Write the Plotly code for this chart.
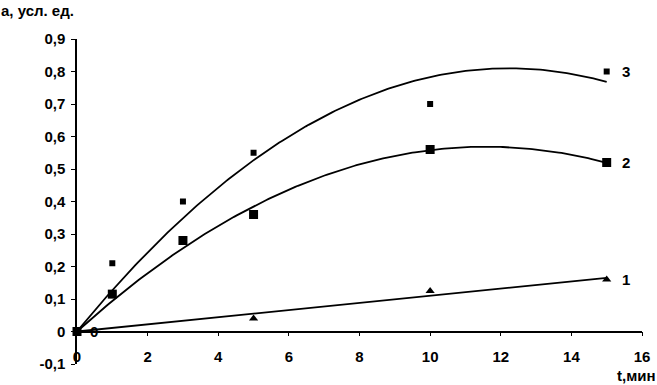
import numpy as np
import plotly.graph_objects as go

# Data
t3 = [0, 1, 3, 5, 10, 15]
a3 = [0, 0.21, 0.40, 0.55, 0.70, 0.80]
t2 = [0, 1, 3, 5, 10, 15]
a2 = [0, 0.115, 0.28, 0.36, 0.56, 0.52]
t1 = [0, 5, 10, 15]
a1 = [0, 0.04, 0.125, 0.16]
series_labels = ["1", "2", "3"]
x_ticks = [0, 2, 4, 6, 8, 10, 12, 14, 16]
y_ticks = [-0.1, 0, 0.1, 0.2, 0.3, 0.4, 0.5, 0.6, 0.7, 0.8, 0.9]
y_ticktext = ["-0,1", "0", "0,1", "0,2", "0,3", "0,4", "0,5", "0,6", "0,7", "0,8", "0,9"]


def trend(t, a):
    # quadratic trend line through the origin (least squares)
    t = np.asarray(t, float)
    a = np.asarray(a, float)
    A = np.column_stack([t, t ** 2])
    coef, *_ = np.linalg.lstsq(A, a, rcond=None)
    tt = np.linspace(0, max(t), 200)
    return tt, coef[0] * tt + coef[1] * tt ** 2


def linear(t, a):
    t = np.asarray(t, float)
    a = np.asarray(a, float)
    k = (t @ a) / (t @ t)
    tt = np.linspace(0, max(t), 50)
    return tt, k * tt


FONT = dict(family="Liberation Sans, Arial, sans-serif", size=15, color="black",
            weight="bold")
fig = go.Figure()

for (tt, yy) in [trend(t3, a3), trend(t2, a2), linear(t1, a1)]:
    fig.add_trace(go.Scatter(x=tt, y=yy, mode="lines",
                             line=dict(color="black", width=1.8),
                             showlegend=False, hoverinfo="skip", cliponaxis=False))

fig.add_trace(go.Scatter(x=t3, y=a3, mode="markers",
                         marker=dict(symbol="square", size=6, color="black"),
                         showlegend=False, cliponaxis=False))
fig.add_trace(go.Scatter(x=t2, y=a2, mode="markers",
                         marker=dict(symbol="square", size=9, color="black"),
                         showlegend=False, cliponaxis=False))
fig.add_trace(go.Scatter(x=t1[1:], y=a1[1:], mode="markers",
                         marker=dict(symbol="triangle-up", size=8, color="black"),
                         showlegend=False, cliponaxis=False))

# series labels to the right of the last points
for lab, yv in zip(series_labels, [a1[-1], a2[-1], a3[-1]]):
    fig.add_annotation(x=t1[-1], y=yv, text=lab, showarrow=False,
                       xanchor="left", xshift=13, font=FONT)
fig.add_annotation(x=t1[0], y=a1[0], text="0", showarrow=False,
                   xanchor="left", xshift=11, font=FONT)

fig.add_annotation(x=0, y=1, xref="paper", yref="paper", text="a, усл. ед.",
                   showarrow=False, xanchor="left", yanchor="top",
                   xshift=-78, yshift=39, font=FONT)
fig.add_annotation(x=1, y=0, xref="paper", yref="paper", text="t,мин",
                   showarrow=False, xanchor="right", yanchor="top",
                   xshift=16, yshift=-1, font=FONT)

fig.update_layout(
    width=657, height=385,
    margin=dict(l=77, r=15, t=39, b=21, autoexpand=False),
    paper_bgcolor="white", plot_bgcolor="white",
    font=FONT,
)
fig.update_xaxes(range=[0, 16], tickvals=x_ticks, ticktext=[str(v) for v in x_ticks],
                 showgrid=False, zeroline=False, showline=True, linecolor="black",
                 linewidth=1.5, ticks="outside", ticklen=4, tickcolor="black",
                 anchor="free", position=0.1, automargin=False,
                 ticklabelstandoff=8)
fig.update_yaxes(range=[-0.1, 0.9], tickvals=y_ticks, ticktext=y_ticktext,
                 showgrid=False, zeroline=False, showline=True, linecolor="black",
                 linewidth=1.5, ticks="outside", ticklen=4, tickcolor="black",
                 automargin=False, ticklabelstandoff=3)

fig.write_html("out.html", config={"displayModeBar": False},
               post_script="document.body.style.margin='0';document.body.style.overflow='hidden';")
